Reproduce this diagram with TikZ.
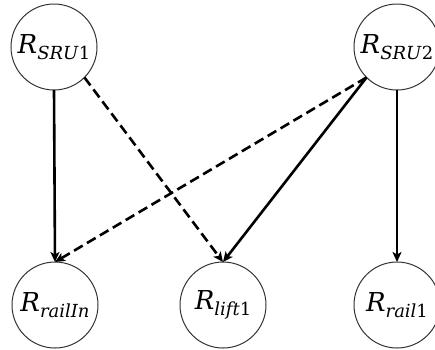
\documentclass[tikz,border=0pt]{standalone}
\usepackage{fontspec}
\setmainfont{DejaVu Serif}
\usetikzlibrary{arrows.meta}
% italic R with a lowered subscript: italic letters, upright digits
\newcommand\rlabel[2]{\textit{R}\raisebox{-6.6pt}{\fontsize{18}{20}\selectfont\textit{#1}#2}}
\tikzset{
  state/.style={circle, draw=black!80, line width=1pt, minimum size=86pt,
    inner sep=0pt, outer sep=0pt, fill=white,
    font=\fontsize{26}{30}\selectfont},
  link/.style={line width=2.6pt, draw=black,
    -{Stealth[length=10pt,width=9pt,inset=2.5pt]}},
  weak/.style={link, dash pattern=on 10pt off 5pt}
}
\begin{document}
\begin{tikzpicture}[x=1pt,y=-1pt]
  \useasboundingbox (0,0) rectangle (435,349);
  % reservation states
  \node[state] (SRU1)   at (54,47)   {\rlabel{SRU}{1}};
  \node[state] (SRU2)   at (397,47)  {\rlabel{SRU}{2}};
  \node[state] (railIn) at (55,305)  {\rlabel{railIn}{}};
  \node[state] (lift1)  at (223,305) {\rlabel{lift}{1}};
  \node[state] (rail1)  at (397,305) {\rlabel{rail}{1}};
  % dependencies
  \draw[link] (SRU1.south) -- (railIn.north);
  \draw[weak] (SRU1.south east) -- (lift1.north);
  \draw[weak] (SRU2.south west) -- (railIn.north);
  \draw[link] (SRU2.south west) -- (lift1.north);
  \draw[link] (SRU2.south) -- (rail1.north);
\end{tikzpicture}
\end{document}
